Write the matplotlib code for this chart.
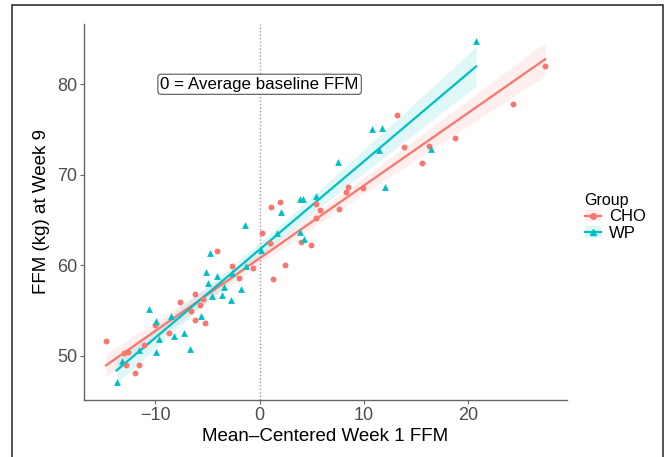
import numpy as np
import matplotlib
matplotlib.use("Agg")
import matplotlib.pyplot as plt
from matplotlib.lines import Line2D
from matplotlib.patches import Patch, Rectangle

plt.rcParams['font.family'] = ['Liberation Sans', 'DejaVu Sans']

# CHO group (mean-centered week-1 FFM, week-9 FFM)
cho_x = [-14.73, -13.00, -12.58, -12.80, -11.53, -11.94, -11.05, -10.06, -8.71, -7.62,
         -6.56, -6.24, -6.24, -5.76, -5.41, -5.25, -4.13, -2.69, -2.02, -0.61,
         0.19, 1.12, 1.92, 1.25, 2.40, 0.96, 4.01, 4.93, 5.45, 5.83,
         5.38, 7.59, 8.33, 8.45, 9.96, 13.19, 13.83, 15.56, 16.21, 18.76,
         24.27, 27.38]
cho_y = [51.62, 50.33, 50.44, 48.97, 48.97, 48.09, 51.18, 53.46, 52.54, 55.96,
         55.00, 56.88, 53.98, 55.60, 56.26, 53.61, 61.56, 59.91, 58.65, 59.68,
         63.61, 66.49, 67.00, 58.47, 60.08, 62.44, 62.59, 62.26, 65.20, 66.09,
         66.78, 66.23, 68.14, 68.66, 68.58, 76.61, 73.08, 71.28, 73.19, 74.10,
         77.79, 82.05]

# WP group
wp_x = [-13.71, -13.19, -11.59, -10.60, -9.96, -9.67, -9.92, -8.52, -8.23, -7.27,
        -6.63, -5.60, -5.16, -4.90, -4.74, -4.58, -4.13, -3.65, -3.46, -2.79,
        -2.62, -1.83, -1.41, -1.28, 0.16, 1.66, 2.02, 3.84, 4.13, 3.91,
        4.23, 5.38, 7.52, 10.76, 11.72, 11.43, 16.43, 12.07, 20.75]
wp_y = [47.10, 49.45, 50.70, 55.19, 53.83, 51.88, 50.44, 54.42, 52.24, 52.51,
        50.77, 54.42, 59.28, 58.09, 61.41, 56.63, 58.80, 56.77, 57.59, 56.22,
        59.20, 57.40, 64.43, 59.97, 61.74, 63.61, 65.90, 67.37, 67.34, 63.66,
        62.89, 67.67, 71.42, 75.10, 75.21, 72.75, 72.86, 68.69, 84.81]

groups = ["CHO", "WP"]
colors = {"CHO": "#F8766D", "WP": "#00BFC4"}
x_ticks = [-10, 0, 10, 20]
y_ticks = [50, 60, 70, 80]
annot_text = "0 = Average baseline FFM"

W, H = 667, 457
fig = plt.figure(figsize=(W / 100, H / 100), dpi=100)
ax = fig.add_axes([84.3 / W, 1 - 400 / H, (566.7 - 84.3) / W, (400 - 23.6) / H])

def fit_band(x, y, t=2.02):
    x = np.asarray(x); y = np.asarray(y)
    n = len(x)
    b1, b0 = np.polyfit(x, y, 1)
    xs = np.linspace(x.min(), x.max(), 100)
    yhat = b0 + b1 * xs
    resid = y - (b0 + b1 * x)
    s = np.sqrt(np.sum(resid ** 2) / (n - 2))
    sxx = np.sum((x - x.mean()) ** 2)
    se = s * np.sqrt(1 / n + (xs - x.mean()) ** 2 / sxx)
    return xs, yhat, yhat - t * se, yhat + t * se

data = {"CHO": (cho_x, cho_y, 'o'), "WP": (wp_x, wp_y, '^')}
for g in groups:
    x, y, m = data[g]
    c = colors[g]
    xs, yh, lo, hi = fit_band(x, y)
    ax.fill_between(xs, lo, hi, color=c, alpha=0.12, lw=0, zorder=1)
    ax.plot(xs, yh, color=c, lw=1.6, zorder=3)
    ax.scatter(x, y, marker=m, s=18 if m == 'o' else 24, color=c, lw=0, zorder=4)

ax.axvline(0, color='#999999', ls=(0, (1, 1.5)), lw=1.0, zorder=2)
ax.text(0, 80, annot_text, ha='center', va='center', fontsize=12.2, color='black', zorder=5,
        bbox=dict(boxstyle='round,pad=0.15,rounding_size=0.2', fc='white', ec='#555555', lw=0.8))

ax.set_xlim(-16.81, 29.45)
ax.set_ylim(45.13, 86.7)
ax.set_xticks(x_ticks)
ax.set_xticklabels([str(v).replace('-', '\u2212') for v in x_ticks])
ax.set_yticks(y_ticks)
ax.set_yticklabels([str(v) for v in y_ticks])
for s in ['top', 'right']:
    ax.spines[s].set_visible(False)
for s in ['left', 'bottom']:
    ax.spines[s].set_color('#666666')
    ax.spines[s].set_linewidth(1.0)
ax.tick_params(axis='both', colors='#666666', labelcolor='#4D4D4D', labelsize=13, length=3, width=0.8, pad=2)
ax.set_xlabel("Mean\u2013Centered Week 1 FFM", fontsize=13.5, color='black', labelpad=3)
ax.set_ylabel("FFM (kg) at Week 9", fontsize=13.5, color='black', labelpad=5)

handles = []
for g in groups:
    c = colors[g]
    handles.append((Patch(facecolor=c, alpha=0.12, edgecolor='none'),
                    Line2D([], [], color=c, lw=1.6, marker='o' if g == 'CHO' else '^', markersize=4)))
leg = fig.legend(handles, groups, title="Group", loc='upper left', bbox_to_anchor=(578 / W, 1 - 186 / H),
                 frameon=False, fontsize=12, title_fontsize=11.5, handlelength=1.0, handletextpad=0.45,
                 labelspacing=0.1, borderaxespad=0)
leg._legend_box.align = "left"

fig.add_artist(Rectangle((12 / W, -0.02), (663 - 12) / W, 1 - 5 / H + 0.02, transform=fig.transFigure,
                         fill=False, ec='#333333', lw=1.2))

fig.savefig("out.png", dpi=100)
